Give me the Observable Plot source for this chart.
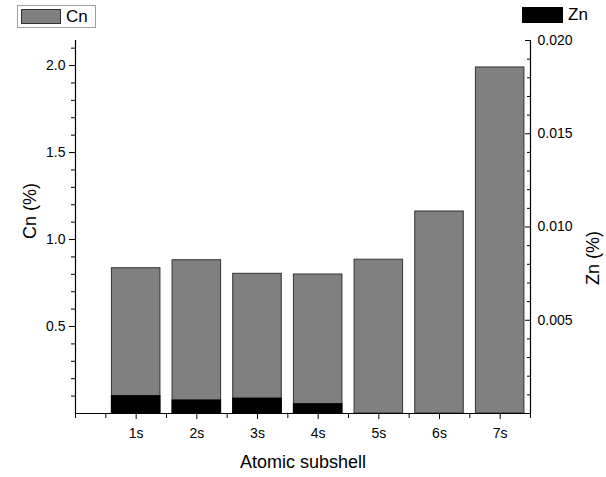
<!DOCTYPE html>
<html><head><meta charset="utf-8">
<script src="https://cdn.jsdelivr.net/npm/d3@7"></script>
<script src="https://cdn.jsdelivr.net/npm/@observablehq/plot@0.6"></script>
<style>
body{margin:0;background:#fff;font-family:"Liberation Sans",Arial,sans-serif;}
#wrap{position:relative;width:606px;height:477px;}
#wrap svg{position:absolute;left:0;top:0;}
.leg{position:absolute;display:flex;align-items:center;font-size:17px;color:#000;line-height:1;}
.sw{display:inline-block;width:40px;height:15px;margin-right:5px;box-sizing:border-box;}
</style></head><body>
<div id="wrap">
  <div class="leg" style="left:17px;top:5px;width:79px;height:23px;border:1px solid #a0a0a0;box-sizing:border-box;padding-left:3px;">
    <span class="sw" style="background:#808080;border:1px solid #333;"></span><span>Cn</span>
  </div>
  <div class="leg" style="left:522px;top:6px;height:17px;">
    <span class="sw" style="background:#000;width:41px;height:16px;"></span><span>Zn</span>
  </div>
</div>
<script>
const subshells = ["1s","2s","3s","4s","5s","6s","7s"];
const cnValues = [0.835, 0.881, 0.803, 0.799, 0.884, 1.161, 1.989];
const znValues = [0.00093, 0.00070, 0.00080, 0.00050, 0, 0, 0];
const cnTickValues = [0.5, 1.0, 1.5, 2.0];
const znTickValues = [0.005, 0.010, 0.015, 0.020];
const xDomain = [0, 7.5];
const cnDomain = [0, 2.144];
const znDomain = [0, 0.020];

const k = cnDomain[1] / znDomain[1];
const rows = subshells.map((s, i) => ({s, i: i + 1, cn: cnValues[i], zn: znValues[i] * k}));
const barHalf = 0.4;

const cnMinor = d3.range(1, 22).filter(j => j % 5 !== 0).map(j => j / 10);
const znMinor = d3.range(1, 20).filter(j => j % 5 !== 0).map(j => j * 0.001 * k);
const xMinor = d3.range(0, 16).filter(j => j % 2 !== 0 || j === 0).map(j => j / 2);

const chart = Plot.plot({
  width: 606,
  height: 477,
  marginLeft: 75,
  marginRight: 76,
  marginTop: 40,
  marginBottom: 64,
  style: {fontFamily: "Liberation Sans, Arial, sans-serif", fontSize: "14px", color: "#000", background: "transparent"},
  x: {domain: xDomain},
  y: {domain: cnDomain},
  marks: [
    Plot.rectY(rows, {x1: d => d.i - barHalf, x2: d => d.i + barHalf, y: "cn", fill: "#808080", stroke: "#333", strokeWidth: 1}),
    Plot.rectY(rows.filter(d => d.zn > 0), {x1: d => d.i - barHalf, x2: d => d.i + barHalf, y: "zn", fill: "#000", stroke: "#000", strokeWidth: 1}),
    Plot.ruleX(xDomain, {stroke: "#000", strokeWidth: 1.2}),
    Plot.ruleY([cnDomain[0]], {stroke: "#000", strokeWidth: 1.2}),
    Plot.axisX({ticks: rows.map(d => d.i), tickFormat: d => subshells[d - 1], tickSize: 6, tickPadding: 9, label: null}),
    Plot.axisX({ticks: xMinor, tickFormat: () => "", tickSize: 5, label: null}),
    Plot.axisY({anchor: "left", ticks: cnTickValues, tickFormat: d3.format(".1f"), tickSize: 6, tickPadding: 4, label: null}),
    Plot.axisY({anchor: "left", ticks: cnMinor, tickFormat: () => "", tickSize: 4, label: null}),
    Plot.axisY({anchor: "right", ticks: znTickValues.map(t => t * k), tickFormat: d => (d / k).toFixed(3), tickSize: -6, tickPadding: 13, label: null}),
    Plot.axisY({anchor: "right", ticks: znMinor, tickFormat: () => "", tickSize: -4, label: null}),
    Plot.text(["Cn (%)"], {frameAnchor: "left", dx: -45, dy: 12, rotate: -90, fontSize: 18, text: d => d}),
    Plot.text(["Zn (%)"], {frameAnchor: "right", dx: 63, dy: 4, rotate: -90, fontSize: 18, text: d => d}),
    Plot.text(["Atomic subshell"], {frameAnchor: "bottom", dy: 54, fontSize: 18, text: d => d})
  ]
});
document.getElementById("wrap").prepend(chart);
</script>
</body></html>
